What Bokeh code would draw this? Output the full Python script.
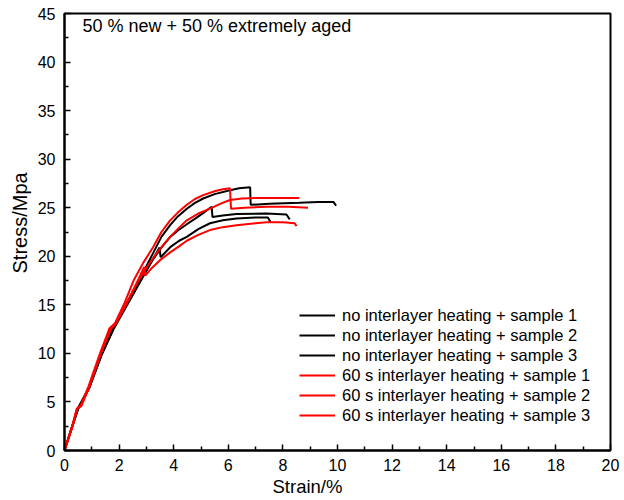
import math
from bokeh.plotting import figure
from bokeh.models import Legend, LegendItem, Label, FixedTicker, Range1d, Title
from bokeh.embed import file_html
from bokeh.resources import INLINE

# ---------------- data ----------------
strain_b1 = [0, 0.25, 0.5, 0.9, 1.35, 1.8, 2.3, 2.8, 3.26, 3.55, 3.87, 4.15, 4.48, 4.78, 5.08, 5.5, 6.06, 6.4, 6.8, 6.82, 7.5, 8.6, 9.3, 9.85, 9.95]
stress_b1 = [0, 2.2, 4.4, 6.5, 9.9, 12.7, 15.3, 17.9, 20.4, 22.0, 23.2, 24.1, 24.9, 25.5, 25.95, 26.4, 26.8, 27.0, 27.1, 25.3, 25.4, 25.5, 25.6, 25.6, 25.2]

strain_b2 = [0, 0.25, 0.5, 0.9, 1.35, 1.8, 2.3, 2.8, 3.2, 3.55, 3.87, 4.18, 4.48, 4.8, 5.1, 5.39, 5.42, 5.8, 6.3, 7.4, 8.13, 8.25]
stress_b2 = [0, 2.2, 4.3, 6.4, 9.8, 12.6, 15.1, 17.6, 19.5, 20.9, 22.0, 22.7, 23.3, 23.9, 24.5, 25.1, 24.05, 24.2, 24.35, 24.4, 24.3, 23.8]

strain_b3 = [0, 0.25, 0.5, 0.9, 1.35, 1.8, 2.3, 2.8, 3.2, 3.48, 3.52, 3.9, 4.2, 4.48, 4.9, 5.33, 5.8, 6.3, 7.0, 7.45, 7.55]
stress_b3 = [0, 2.2, 4.3, 6.4, 9.8, 12.5, 15.0, 17.5, 19.5, 20.9, 19.9, 21.0, 21.6, 22.0, 22.8, 23.4, 23.7, 23.9, 24.0, 24.0, 23.5]

strain_r1 = [0, 0.28, 0.45, 0.6, 0.88, 1.3, 1.65, 1.85, 2.2, 2.53, 2.9, 3.26, 3.55, 3.87, 4.15, 4.48, 4.78, 5.08, 5.5, 5.8, 6.06, 6.1, 6.6, 7.4, 8.2, 8.92]
stress_r1 = [0, 2.5, 4.3, 4.7, 6.6, 10.0, 12.6, 13.1, 15.2, 17.5, 19.4, 21.0, 22.5, 23.7, 24.5, 25.3, 25.9, 26.3, 26.7, 26.9, 27.0, 24.9, 25.0, 25.1, 25.1, 25.0]

strain_r2 = [0, 0.3, 0.47, 0.62, 0.9, 1.33, 1.7, 1.87, 2.25, 2.65, 3.02, 3.45, 3.87, 4.18, 4.48, 4.9, 5.33, 5.7, 6.06, 6.5, 7.0, 7.8, 8.6]
stress_r2 = [0, 2.5, 4.3, 4.6, 6.5, 10.0, 12.6, 13.0, 15.0, 17.2, 18.9, 20.6, 22.0, 22.9, 23.7, 24.4, 24.9, 25.4, 25.8, 25.95, 26.0, 26.0, 26.0]

strain_r3 = [0, 0.28, 0.46, 0.6, 0.9, 1.33, 1.7, 1.85, 2.25, 2.6, 2.92, 2.96, 3.2, 3.5, 3.87, 4.18, 4.48, 4.9, 5.33, 5.8, 6.3, 7.0, 7.4, 8.0, 8.43, 8.5]
stress_r3 = [0, 2.5, 4.3, 4.6, 6.5, 10.0, 12.5, 13.0, 15.0, 17.0, 18.9, 18.0, 18.8, 19.6, 20.4, 21.0, 21.6, 22.2, 22.7, 23.0, 23.2, 23.4, 23.5, 23.5, 23.4, 23.1]

series_labels = [
    "no interlayer heating + sample 1",
    "no interlayer heating + sample 2",
    "no interlayer heating + sample 3",
    "60 s interlayer heating + sample 1",
    "60 s interlayer heating + sample 2",
    "60 s interlayer heating + sample 3",
]

x_ticks = [0, 2, 4, 6, 8, 10, 12, 14, 16, 18, 20]
x_minor = [1, 3, 5, 7, 9, 11, 13, 15, 17, 19]
y_ticks = [0, 5, 10, 15, 20, 25, 30, 35, 40, 45]
y_minor = [2.5, 7.5, 12.5, 17.5, 22.5, 27.5, 32.5, 37.5, 42.5]

title_text = "50 % new + 50 % extremely aged"
x_label = "Strain/%"
y_label = "Stress/Mpa"

# ---------------- figure ----------------
FONT = "Liberation Sans"

p = figure(width=624, height=500, output_backend="svg", toolbar_location=None,
           x_range=Range1d(0, 20), y_range=Range1d(0, 45),
           min_border_left=64, min_border_right=14, min_border_top=13, min_border_bottom=50)
p.xgrid.visible = False
p.ygrid.visible = False
p.outline_line_color = "black"
p.outline_line_width = 2
p.outline_line_alpha = 1
p.background_fill_color = "white"
p.border_fill_color = "white"

p.xaxis.ticker = FixedTicker(ticks=x_ticks, minor_ticks=x_minor)
p.yaxis.ticker = FixedTicker(ticks=y_ticks, minor_ticks=y_minor)

for ax in (p.xaxis, p.yaxis):
    ax.axis_line_width = 2
    ax.axis_line_color = "black"
    ax.major_tick_in = 6
    ax.major_tick_out = 0
    ax.minor_tick_in = 4
    ax.minor_tick_out = 0
    ax.major_tick_line_width = 1.5
    ax.minor_tick_line_width = 1.5
    ax.major_tick_line_color = "black"
    ax.minor_tick_line_color = "black"
    ax.major_label_text_font = FONT
    ax.major_label_text_font_size = "16px"
    ax.major_label_text_color = "black"
p.xaxis.major_label_standoff = 8
p.yaxis.major_label_standoff = 9

# axis titles placed as side titles so they can be shifted like in the reference
p.add_layout(Title(text=x_label, text_font=FONT, text_font_size="18.5px",
                   text_font_style="normal", text_color="black",
                   align="left", offset=208, standoff=0), "below")
p.add_layout(Title(text=y_label, text_font=FONT, text_font_size="20px",
                   text_font_style="normal", text_color="black",
                   align="left", offset=177, standoff=7), "left")

# curves: black first, red on top
line_w = 2
r_b1 = p.line(strain_b1, stress_b1, line_color="black", line_width=line_w)
r_b2 = p.line(strain_b2, stress_b2, line_color="black", line_width=line_w)
r_b3 = p.line(strain_b3, stress_b3, line_color="black", line_width=line_w)
r_r1 = p.line(strain_r1, stress_r1, line_color="#ff0000", line_width=line_w)
r_r2 = p.line(strain_r2, stress_r2, line_color="#ff0000", line_width=line_w)
r_r3 = p.line(strain_r3, stress_r3, line_color="#ff0000", line_width=line_w)

renderers = [r_b1, r_b2, r_b3, r_r1, r_r2, r_r3]
items = [LegendItem(label=lab, renderers=[r]) for lab, r in zip(series_labels, renderers)]
legend = Legend(items=items, location=(235, 25),
                label_text_font=FONT, label_text_font_size="16.5px", label_text_color="black",
                glyph_width=36, glyph_height=20, label_height=20, label_standoff=7,
                spacing=0, padding=0, margin=0,
                border_line_alpha=0, background_fill_alpha=0)
p.add_layout(legend)

p.add_layout(Label(x=0.66, y=43.7, text=title_text, text_font=FONT,
                   text_font_size="18px", text_color="black",
                   text_align="left", text_baseline="middle"))

open("out.html", "w").write(file_html(p, INLINE))
